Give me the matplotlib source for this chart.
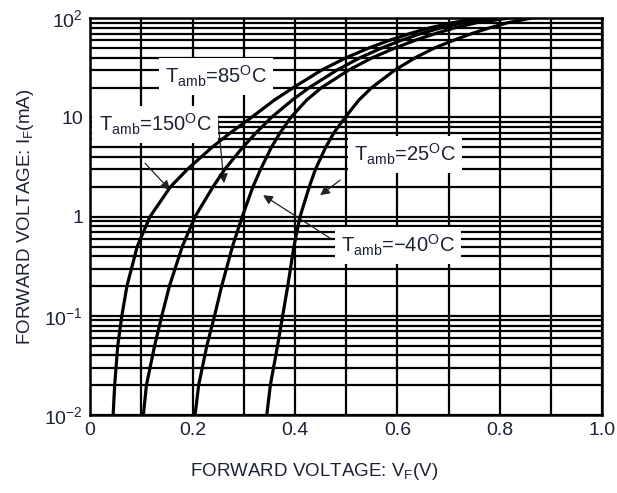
import matplotlib
matplotlib.use("Agg")
import matplotlib.pyplot as plt
import numpy as np

plt.rcParams['font.family'] = ['Liberation Sans', 'DejaVu Sans']
plt.rcParams['mathtext.fontset'] = 'custom'
plt.rcParams['mathtext.rm'] = 'Liberation Sans'
plt.rcParams['mathtext.it'] = 'Liberation Sans'

# Forward current (mA), shared by all curves
i_f = [0.01, 0.02, 0.05, 0.1, 0.2, 0.5, 1, 2, 3, 5, 7, 10, 15, 20, 30, 40, 50, 60, 70, 80, 90, 100]

# Forward voltage (V) for each ambient temperature
v_150 = [.045, .048, .054, .062, .072, .092, .117, .157, .190, .238, .274, .315, .360, .397, .452, .500, .544, .585, .624, .663, .707, .760]
v_85 = [.104, .110, .126, .140, .155, .180, .205, .240, .263, .298, .324, .354, .395, .428, .482, .527, .569, .608, .646, .685, .728, .785]
v_25 = [.205, .212, .228, .243, .257, .278, .297, .318, .333, .354, .371, .392, .423, .452, .505, .551, .595, .635, .674, .712, .754, .815]
v_m40 = [.345, .352, .366, .376, .386, .398, .410, .428, .440, .460, .476, .498, .525, .550, .595, .635, .672, .710, .745, .780, .815, .860]

x_ticks = [0, 0.2, 0.4, 0.6, 0.8, 1.0]
x_labels = ['0', '0.2', '0.4', '0.6', '0.8', '1.0']
y_ticks = [0.01, 0.1, 1, 10, 100]
y_labels = ['10$^{-2}$', '10$^{-1}$', '1', '10', '10$^{2}$']

txt_col = '#1c2233'

fig = plt.figure(figsize=(6.17, 4.93), dpi=100)
ax = fig.add_axes([0.146, 0.158, 0.830, 0.805])

for v in [v_150, v_85, v_25, v_m40]:
    ax.plot(v, i_f, color='black', lw=2.3, zorder=4, solid_joinstyle='round')

ax.set_yscale('log')
ax.set_xlim(0, 1.0)
ax.set_ylim(0.01, 100)

# grid: every 0.1 V and every log minor step
ax.set_xticks(np.arange(0, 1.01, 0.1), minor=True)
ax.set_xticks(x_ticks)
ax.set_xticklabels(x_labels)
ax.set_yticks(y_ticks)
ax.set_yticklabels(y_labels)
ax.yaxis.set_minor_locator(matplotlib.ticker.LogLocator(base=10, subs=np.arange(2, 10)))
ax.yaxis.set_minor_formatter(matplotlib.ticker.NullFormatter())
ax.grid(True, which='both', color='black', lw=1.6)
ax.set_axisbelow(True)
ax.tick_params(which='both', length=0, labelsize=14, labelcolor=txt_col, pad=5)
for s in ax.spines.values():
    s.set_linewidth(1.8)

ax.set_xlabel('FORWARD VOLTAGE: V$_{\\rm F}$(V)', fontsize=13.5, color=txt_col, labelpad=14)
ax.xaxis.set_label_coords(0.4375, -0.115)
ax.set_ylabel('FORWARD VOLTAGE: I$_{\\rm F}$(mA)', fontsize=13.5, color=txt_col, labelpad=6)

box = dict(boxstyle='square,pad=0.3', fc='white', ec='none')
arr = dict(arrowstyle='-|>', color='#222222', lw=0.9, mutation_scale=14, shrinkA=0, shrinkB=0)

def px(x, y):
    # pixel position in the reference -> data coordinates
    fx = (x - 90) / 512.0
    fy = 10 ** (2 - (y - 18) / 99.25)
    return fx, fy

ax.annotate('', xy=px(170, 190), xytext=px(145, 163), arrowprops=arr, zorder=3)
ax.annotate('', xy=px(224, 183), xytext=px(217, 112), arrowprops=arr, zorder=3)
ax.annotate('', xy=px(320, 195), xytext=px(340, 180), arrowprops=arr, zorder=3)
ax.annotate('', xy=px(263, 195), xytext=px(330, 238), arrowprops=arr, zorder=3)

labels = [('T$_{\\rm amb}$=85$^{\\rm O}$C', 216, 76),
          ('T$_{\\rm amb}$=150$^{\\rm O}$C', 155, 124),
          ('T$_{\\rm amb}$=25$^{\\rm O}$C', 405, 154),
          ('T$_{\\rm amb}$=$-$40$^{\\rm O}$C', 398, 245)]
for t, x, y in labels:
    ax.text(*px(x, y), t, fontsize=14.5, color=txt_col, ha='center', va='center',
            bbox=box, zorder=3.5)

fig.savefig('out.png', dpi=100)
